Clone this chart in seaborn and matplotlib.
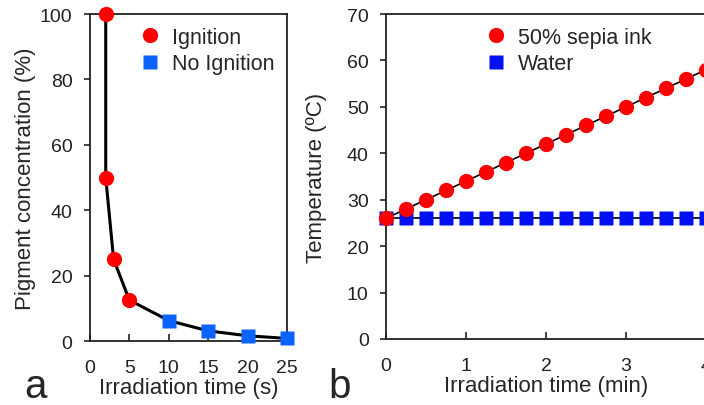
#!/usr/bin/env python3
"""pigment concentration vs ignition, and photothermal heating of sepia ink"""

import matplotlib.pyplot as plt
import pandas as pd
import seaborn as sns

# panel a: pigment concentration against irradiation time needed
ign_time = [2, 2, 3, 5]
ign_conc = [100, 50, 25, 12.5]
noign_time = [10, 15, 20, 25]
noign_conc = [6.25, 3.1, 1.6, 0.8]

# panel b: temperature against irradiation time
t_min = [0, 0.25, 0.5, 0.75, 1, 1.25, 1.5, 1.75, 2, 2.25, 2.5, 2.75, 3,
         3.25, 3.5, 3.75, 4]
ink_temp = [26, 28, 30, 32, 34, 36, 38, 40, 42, 44, 46, 48, 50,
            52, 54, 56, 58]
water_temp = [26] * len(t_min)

sns.set_style("white")
plt.rcParams['font.family'] = ['Liberation Sans', 'DejaVu Sans']

fig = plt.figure(figsize=(7.04, 4.06), dpi=100)
ax_a = fig.add_axes([0.1278, 0.1576, 0.2798, 0.8054])
ax_b = fig.add_axes([0.5483, 0.1626, 0.4545, 0.8004])

# --- panel a
curve = pd.DataFrame({"t": ign_time + noign_time, "c": ign_conc + noign_conc})
sns.lineplot(data=curve, x="t", y="c", sort=False, estimator=None,
             color="black", lw=2.2, ax=ax_a, zorder=1)
sns.lineplot(x=ign_time, y=ign_conc, ax=ax_a, lw=0, marker="o", ms=11,
             mec="none", color="#ff0000", label="Ignition", zorder=3,
             estimator=None, sort=False)
sns.lineplot(x=noign_time, y=noign_conc, ax=ax_a, lw=0, marker="s", ms=10.5,
             mec="none", color="#0a62ff", label="No Ignition", zorder=3,
             estimator=None)
ax_a.set_xlim(0, 25)
ax_a.set_ylim(0, 100)
ax_a.set_xticks([0, 5, 10, 15, 20, 25])
ax_a.set_yticks([0, 20, 40, 60, 80, 100])
ax_a.set_xlabel("Irradiation time (s)", fontsize=16, labelpad=1)
ax_a.set_ylabel("Pigment concentration (%)", fontsize=16, labelpad=3)
ax_a.legend(loc="upper right", frameon=False, fontsize=15.5, handletextpad=0.2,
            borderaxespad=0.2, labelspacing=0.25, handlelength=1.6)

# --- panel b
sns.lineplot(x=t_min, y=ink_temp, color="black", lw=1.2, ax=ax_b, zorder=1,
             estimator=None)
sns.lineplot(x=t_min, y=water_temp, color="black", lw=1.2, ax=ax_b, zorder=1,
             estimator=None)
sns.lineplot(x=t_min, y=water_temp, ax=ax_b, lw=0, marker="s", ms=10.5,
             mec="none", color="#0010f0", label="Water", zorder=2,
             estimator=None)
sns.lineplot(x=t_min, y=ink_temp, ax=ax_b, lw=0, marker="o", ms=11,
             mec="none", color="#ff0000", label="50% sepia ink", zorder=3,
             estimator=None)
ax_b.set_xlim(0, 4)
ax_b.set_ylim(0, 70)
ax_b.set_xticks([0, 1, 2, 3, 4])
ax_b.set_yticks(range(0, 71, 10))
ax_b.set_xlabel("Irradiation time (min)", fontsize=16, labelpad=1)
ax_b.set_ylabel("Temperature (ºC)", fontsize=16, labelpad=14)
h, l = ax_b.get_legend_handles_labels()
ax_b.legend(h[::-1], l[::-1], loc="upper left", bbox_to_anchor=(0.25, 1.0),
            frameon=False, fontsize=15.5, handletextpad=0.2,
            borderaxespad=0.2, labelspacing=0.25, handlelength=1.6)

for ax in (ax_a, ax_b):
    for s in ax.spines.values():
        s.set_color("#222222")
        s.set_linewidth(1.3)
        s.set_clip_on(False)
    ax.tick_params(axis="x", direction="in", length=5, width=1.2,
                   pad=13, labelsize=14, colors="#222222")
    ax.tick_params(axis="y", direction="out", length=4, width=1.2,
                   pad=8.5, labelsize=14, colors="#222222")
    ax.tick_params(left=True, bottom=True)
    for line in ax.lines:
        line.set_clip_on(False)

fig.text(0.034, 0.02, "a", fontsize=29)
fig.text(0.466, 0.02, "b", fontsize=29)

fig.savefig("out.png", dpi=100)
